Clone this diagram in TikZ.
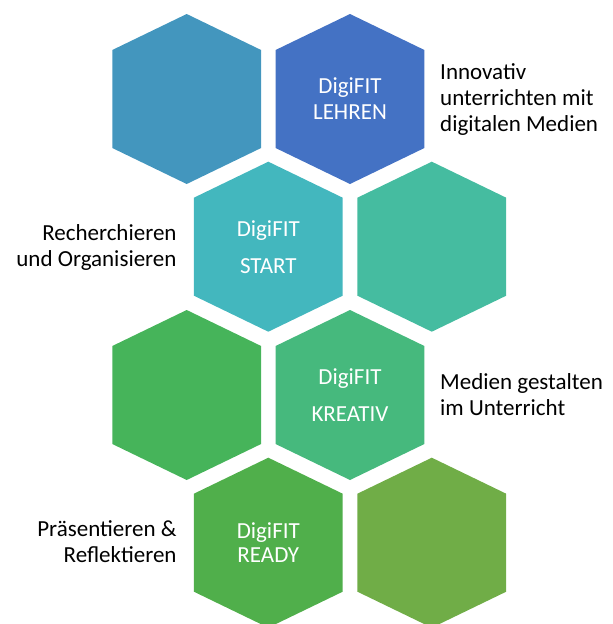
\documentclass[tikz,border=0pt]{standalone}
\usepackage{fontspec}
\setmainfont{Carlito}
\definecolor{hexteal}{HTML}{4396BE}
\definecolor{hexblue}{HTML}{4472C4}
\definecolor{hexcyan}{HTML}{43B7BE}
\definecolor{hexmint}{HTML}{45BCA0}
\definecolor{hexgreen}{HTML}{46B45A}
\definecolor{hexjade}{HTML}{46B97D}
\definecolor{hexleaf}{HTML}{50AF4B}
\definecolor{hexolive}{HTML}{70AD47}
\tikzset{
  hexlabel/.style={text=white, align=center, inner sep=0pt},
  sidelabel/.style={text=black, inner sep=0pt, font=\fontsize{23}{26}\selectfont}
}
\begin{document}
\begin{tikzpicture}[x=1pt, y=-1pt]
  \clip (0,0) rectangle (613,624);
  % honeycomb
  \foreach \cx/\cy/\col/\nm in {186.7/99/hexteal/tl, 350/99/hexblue/lehren,
      268.3/246.7/hexcyan/start, 431.8/246.7/hexmint/tr,
      186.7/395/hexgreen/ml, 350/395/hexjade/kreativ,
      268.3/542.7/hexleaf/ready, 431.8/542.7/hexolive/br} {
    \coordinate (\nm) at (\cx,\cy);
    \fill[\col] (\nm) ++(0,-85) -- ++(74.4,36) -- ++(0,98) -- ++(-74.4,36)
      -- ++(-74.4,-36) -- ++(0,-98) -- cycle;
  }
  % texts in the hexagons
  \node[hexlabel, font=\fontsize{23}{26}\selectfont] (lehrentext) at (lehren) {DigiFIT\\LEHREN};
  \node[hexlabel, font=\fontsize{23}{37}\selectfont] (starttext) at (start) {DigiFIT\\START};
  \node[hexlabel, font=\fontsize{23}{37}\selectfont] (kreativtext) at (kreativ) {DigiFIT\\KREATIV};
  \node[hexlabel, font=\fontsize{23}{24.5}\selectfont] (readytext) at (ready) {DigiFIT\\READY};
  % side texts (base = last line)
  \node[sidelabel, align=left, anchor=base west] (lehrenside) at (440,131.7)
    {Innovativ\\unterrichten mit\\digitalen Medien};
  \node[sidelabel, align=right, anchor=base east] (startside) at (176.7,266.7)
    {Recherchieren\\und Organisieren};
  \node[sidelabel, align=left, anchor=base west] (kreativside) at (440,415)
    {Medien gestalten\\im Unterricht};
  \node[sidelabel, align=right, anchor=base east] (readyside) at (176.7,562.7)
    {Präsentieren \&\\Reflektieren};
\end{tikzpicture}
\end{document}
